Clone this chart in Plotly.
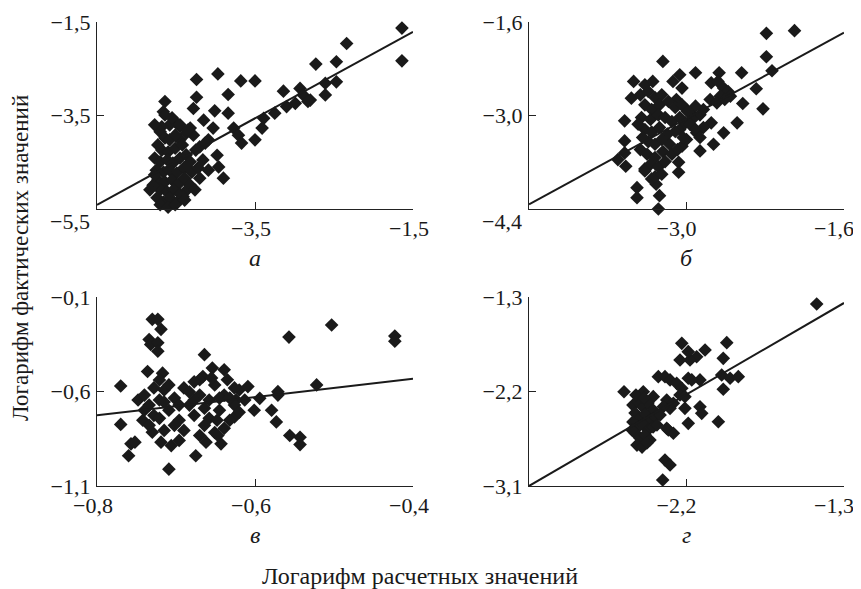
import plotly.graph_objects as go

# ---------------- data ----------------
# panel а
a_points = [(-1.64,-1.63),(-1.64,-2.33),(-2.34,-1.96),(-2.47,-2.35),(-2.73,-2.40),(-2.47,-2.78),(-2.61,-2.81),(-2.61,-3.06),
            (-2.93,-2.92),(-2.89,-3.06),(-2.80,-3.17),(-2.99,-3.24),(-3.10,-3.31),(-2.83,-3.20),(-3.14,-2.98),(-3.25,-3.45),
            (-3.39,-3.56),(-3.41,-3.77),(-3.50,-4.02),(-3.50,-2.76),(-3.68,-2.76),(-3.84,-3.05),(-3.84,-3.45),(-3.77,-3.77),
            (-3.71,-3.92),(-3.67,-4.09),(-3.97,-2.61),(-4.24,-2.73),(-4.24,-3.11),(-4.28,-3.35),(-4.01,-3.40),(-4.15,-3.60),
            (-4.03,-3.77),(-4.09,-4.02),(-3.98,-4.35),(-3.96,-4.60),(-3.90,-4.84),(-4.64,-3.20),(-4.66,-3.42),(-4.51,-3.63),
            (-4.58,-3.70),(-4.68,-3.74),(-4.45,-3.74),(-4.32,-3.77),(-4.28,-3.92),(-4.37,-3.88),(-4.45,-4.02),(-4.20,-4.17),
            (-4.13,-4.09),
            (-4.77,-3.70),(-4.70,-3.85),(-4.64,-3.98),(-4.73,-4.13),(-4.58,-4.02),(-4.51,-3.92),(-4.68,-4.24),(-4.60,-4.28),
            (-4.51,-4.20),(-4.42,-4.13),(-4.77,-4.41),(-4.70,-4.49),(-4.61,-4.45),(-4.54,-4.52),(-4.45,-4.41),(-4.37,-4.34),
            (-4.32,-4.49),(-4.75,-4.67),(-4.66,-4.71),(-4.58,-4.67),(-4.49,-4.73),(-4.40,-4.62),(-4.30,-4.71),(-4.22,-4.62),
            (-4.73,-4.88),(-4.64,-4.92),(-4.55,-4.88),(-4.47,-4.97),(-4.39,-4.84),(-4.32,-4.99),(-4.70,-5.09),(-4.61,-5.14),
            (-4.53,-5.09),(-4.45,-5.18),(-4.36,-5.09),(-4.74,-5.26),(-4.66,-5.35),(-4.58,-5.26),(-4.49,-5.37),(-4.41,-5.24),
            (-4.70,-5.41),(-4.60,-5.46),(-4.51,-5.41),(-4.20,-4.84),(-4.26,-5.09),(-4.79,-4.99),(-4.77,-4.77),(-4.39,-5.31),
            (-4.64,-3.49),(-4.55,-3.55),(-4.45,-3.70),(-4.35,-3.81),(-4.83,-5.09),(-4.25,-4.24),(-4.16,-4.45),(-4.09,-4.67)]
a_line_x = [-5.5, -1.5]
a_line_y = [-5.41, -1.71]

# panel б
b_points = [(-2.04,-1.73),(-2.29,-1.77),(-2.29,-2.12),(-2.24,-2.33),(-2.38,-2.60),(-2.32,-2.90),(-2.51,-2.36),(-2.50,-2.82),
            (-2.55,-3.11),(-2.71,-2.36),(-2.78,-2.51),(-2.72,-2.49),(-2.67,-2.59),(-2.63,-2.64),(-2.61,-2.71),(-2.70,-2.71),
            (-2.79,-2.76),(-2.73,-2.81),(-2.66,-2.76),(-2.67,-3.26),(-2.76,-3.43),(-2.78,-3.11),(-2.88,-3.53),(-2.85,-3.18),
            (-2.91,-3.26),(-2.94,-3.01),(-2.88,-2.99),(-2.85,-2.91),(-2.92,-2.86),(-3.00,-2.91),(-2.95,-3.06),(-2.92,-2.36),
            (-3.06,-2.39),(-3.04,-2.59),(-3.12,-2.49),(-3.09,-2.76),(-3.21,-2.19),(-3.04,-3.46),(-3.00,-3.36),(-3.06,-3.21),
            (-3.01,-3.11),(-3.07,-3.70),(-3.07,-3.85),(-3.47,-2.49),(-3.49,-2.74),(-3.55,-3.08),(-3.55,-3.38),(-3.55,-3.56),
            (-3.61,-3.66),(-3.54,-3.76),(-3.37,-2.54),(-3.30,-2.49),(-3.44,-4.08),(-3.44,-4.23),(-3.25,-4.40),(-3.24,-4.20),
            (-3.27,-4.03),(-3.31,-3.95),(-3.37,-3.80),
            (-3.41,-2.69),(-3.34,-2.64),(-3.28,-2.73),(-3.22,-2.69),(-3.37,-2.84),(-3.31,-2.91),(-3.24,-2.84),(-3.16,-2.79),
            (-3.10,-2.88),(-3.04,-2.84),(-2.99,-2.94),(-3.40,-3.03),(-3.32,-3.06),(-3.25,-2.99),(-3.19,-3.03),(-3.13,-3.09),
            (-3.06,-3.03),(-2.97,-3.13),(-3.37,-3.21),(-3.31,-3.25),(-3.24,-3.18),(-3.17,-3.28),(-3.10,-3.24),(-3.03,-3.33),
            (-3.34,-3.39),(-3.28,-3.43),(-3.22,-3.36),(-3.15,-3.43),(-3.41,-3.51),(-3.35,-3.58),(-3.28,-3.63),(-3.21,-3.54),
            (-3.32,-3.73),(-3.25,-3.77),(-3.19,-3.69),(-3.37,-3.83),(-3.28,-3.92),(-3.22,-3.88),(-3.39,-3.33),(-3.43,-3.13),
            (-2.92,-3.21),(-2.88,-3.33),(-3.13,-3.58),(-3.08,-3.51)]
b_line_x = [-4.4, -1.6]
b_line_y = [-4.33, -1.76]

# panel в
c_points = [(-0.423,-0.307),(-0.423,-0.334),(-0.503,-0.248),(-0.557,-0.312),(-0.522,-0.565),(-0.571,-0.601),(-0.571,-0.619),
            (-0.594,-0.636),(-0.609,-0.574),(-0.601,-0.699),(-0.579,-0.699),(-0.573,-0.761),(-0.556,-0.833),(-0.543,-0.842),
            (-0.543,-0.881),(-0.730,-0.218),(-0.723,-0.218),(-0.719,-0.271),(-0.734,-0.325),(-0.732,-0.351),(-0.723,-0.342),
            (-0.723,-0.387),(-0.664,-0.405),(-0.654,-0.476),(-0.639,-0.485),(-0.666,-0.521),(-0.736,-0.494),(-0.717,-0.503),
            (-0.721,-0.539),(-0.770,-0.571),(-0.748,-0.645),(-0.770,-0.774),(-0.757,-0.877),(-0.752,-0.868),(-0.760,-0.940),
            (-0.709,-1.011),(-0.675,-0.940),(-0.662,-0.868),(-0.643,-0.877),(-0.647,-0.833),(-0.706,-0.886),(-0.719,-0.868),
            (-0.742,-0.752),(-0.730,-0.815),(-0.626,-0.735),(-0.624,-0.645),
            (-0.740,-0.619),(-0.734,-0.672),(-0.728,-0.726),(-0.721,-0.645),(-0.715,-0.592),(-0.709,-0.699),(-0.702,-0.635),
            (-0.696,-0.752),(-0.690,-0.581),(-0.683,-0.672),(-0.677,-0.726),(-0.670,-0.619),(-0.664,-0.779),(-0.658,-0.645),
            (-0.651,-0.565),(-0.645,-0.699),(-0.639,-0.619),(-0.632,-0.752),(-0.626,-0.672),(-0.620,-0.592),(-0.734,-0.779),
            (-0.715,-0.806),(-0.696,-0.672),(-0.677,-0.645),(-0.658,-0.742),(-0.639,-0.795),(-0.709,-0.565),(-0.683,-0.603),
            (-0.664,-0.688),(-0.645,-0.635),(-0.626,-0.581),(-0.702,-0.779),(-0.670,-0.833),(-0.721,-0.742),(-0.690,-0.806),
            (-0.651,-0.817),(-0.632,-0.635),(-0.620,-0.710),(-0.728,-0.581),(-0.740,-0.699),(-0.670,-0.538),(-0.655,-0.528),
            (-0.635,-0.538),(-0.613,-0.645),(-0.696,-0.859),(-0.677,-0.549),(-0.715,-0.656),(-0.648,-0.752)]
c_line_x = [-0.8, -0.4]
c_line_y = [-0.726, -0.533]

# panel г
d_points = [(-1.456,-1.367),(-1.970,-1.735),(-1.990,-1.884),(-1.990,-2.179),(-2.018,-2.488),(-1.999,-2.043),(-1.951,-2.074),
            (-1.904,-2.059),(-2.094,-1.805),(-2.123,-2.090),(-2.123,-2.345),(-2.113,-2.408),(-2.142,-1.869),(-2.180,-1.900),
            (-2.190,-1.821),(-2.227,-1.741),(-2.237,-1.900),(-2.190,-2.074),(-2.170,-2.090),(-2.190,-2.503),(-2.209,-2.360),
            (-2.361,-2.059),(-2.323,-2.059),(-2.294,-2.090),(-2.256,-2.122),(-2.227,-2.170),(-2.237,-2.233),(-2.209,-2.249),
            (-2.313,-2.281),(-2.275,-2.312),(-2.294,-2.360),(-2.333,-2.345),(-2.304,-2.567),(-2.275,-2.598),(-2.313,-2.550),
            (-2.323,-2.852),(-2.294,-2.900),(-2.336,-3.043),(-2.557,-2.202),(-2.447,-2.202),(-2.390,-2.249),
            (-2.506,-2.329),(-2.477,-2.300),(-2.449,-2.348),(-2.420,-2.310),(-2.391,-2.376),(-2.494,-2.405),(-2.466,-2.452),
            (-2.437,-2.414),(-2.409,-2.471),(-2.380,-2.443),(-2.506,-2.490),(-2.477,-2.538),(-2.449,-2.510),(-2.420,-2.567),
            (-2.391,-2.538),(-2.494,-2.595),(-2.466,-2.643),(-2.437,-2.614),(-2.409,-2.662),(-2.483,-2.710),(-2.454,-2.729),
            (-2.426,-2.690),(-2.511,-2.567),(-2.369,-2.519),(-2.351,-2.424),(-2.489,-2.233),(-2.443,-2.262)]
d_line_x = [-3.1, -1.3]
d_line_y = [-3.1, -1.357]

# axis ranges and ticks
a_range_x, a_range_y = [-5.5, -1.5], [-5.5, -1.5]
a_ticks_x, a_ticks_y = [-3.5, -1.5], [-3.5, -1.5]
b_range_x, b_range_y = [-4.4, -1.6], [-4.4, -1.6]
b_ticks_x, b_ticks_y = [-3.0, -1.6], [-3.0, -1.6]
c_range_x, c_range_y = [-0.8, -0.4], [-1.1, -0.1]
c_ticks_x, c_ticks_y = [-0.8, -0.6, -0.4], [-1.1, -0.6, -0.1]
d_range_x, d_range_y = [-3.1, -1.3], [-3.1, -1.3]
d_ticks_x, d_ticks_y = [-2.2, -1.3], [-3.1, -2.2, -1.3]

panel_letters = ["а", "б", "в", "г"]
corner_labels = ["−5,5", "−4,4", None, None]
y_title = "Логарифм фактических значений"
x_title = "Логарифм расчетных значений"

# ---------------- figure ----------------
# the page body has an 8px margin: the figure starts at (8, 8) and runs to the window edge
OFF = 8
W, H = 861 - OFF, 589 - OFF
FONT = "Liberation Serif"
INK = "#1a1a1a"


def fx(px):
    return (px - OFF) / W


def fy(py):
    return 1 - (py - OFF) / H


def lab(v):
    return f"{v:.1f}".replace(".", ",").replace("-", "−")


panels = [
    (a_points, a_line_x, a_line_y, a_range_x, a_range_y, a_ticks_x, a_ticks_y),
    (b_points, b_line_x, b_line_y, b_range_x, b_range_y, b_ticks_x, b_ticks_y),
    (c_points, c_line_x, c_line_y, c_range_x, c_range_y, c_ticks_x, c_ticks_y),
    (d_points, d_line_x, d_line_y, d_range_x, d_range_y, d_ticks_x, d_ticks_y),
]

x_domains = [[fx(97), fx(413)], [fx(529), fx(844)]]
y_domains = [[fy(209), fy(22)], [fy(486), fy(297)]]
x_label_shift = [-4, -10]

fig = go.Figure()
annotations = []
for i, (pts, lx, ly, rx, ry, tx, ty) in enumerate(panels):
    n = i + 1
    xa = "x" if n == 1 else f"x{n}"
    ya = "y" if n == 1 else f"y{n}"
    xs = [p[0] for p in pts]
    ys = [p[1] for p in pts]
    fig.add_trace(go.Scatter(x=xs, y=ys, mode="markers", xaxis=xa, yaxis=ya,
                             marker=dict(symbol="diamond", size=10.5, color=INK, line=dict(width=0)),
                             cliponaxis=False, showlegend=False, hoverinfo="skip"))
    fig.add_trace(go.Scatter(x=lx, y=ly, mode="lines", xaxis=xa, yaxis=ya,
                             line=dict(color=INK, width=2), showlegend=False, hoverinfo="skip"))
    col, row = i % 2, i // 2
    axcommon = dict(showline=True, linecolor="#222", linewidth=1.3, ticks="inside", ticklen=7,
                    tickwidth=1.3, tickcolor="#222", showgrid=False, zeroline=False, automargin=False,
                    ticklabeloverflow="allow",
                    tickfont=dict(family=FONT, size=22, color=INK))
    fig.update_layout({
        ("xaxis" if n == 1 else f"xaxis{n}"): dict(domain=x_domains[col], anchor=ya, range=rx,
                                                   tickvals=tx, ticktext=[lab(v) for v in tx],
                                                   ticklabelstandoff=-1, ticklabelshift=x_label_shift[col],
                                                   **axcommon),
        ("yaxis" if n == 1 else f"yaxis{n}"): dict(domain=y_domains[row], anchor=xa, range=ry,
                                                   tickvals=ty, ticktext=[lab(v) for v in ty],
                                                   ticklabelstandoff=1, **axcommon),
    })
    annotations.append(dict(text=f"<i>{panel_letters[i]}</i>", xref="paper", yref="paper",
                            x=(x_domains[col][0] + x_domains[col][1]) / 2,
                            y=y_domains[row][0], yshift=-49, xanchor="center", yanchor="middle",
                            showarrow=False, font=dict(family=FONT, size=24, color=INK)))
    if corner_labels[i]:
        annotations.append(dict(text=corner_labels[i], xref=f"{xa} domain", yref=f"{ya} domain",
                                x=0, y=0, xanchor="right", yanchor="middle", xshift=-5, yshift=-13,
                                showarrow=False, font=dict(family=FONT, size=22, color=INK)))

annotations.append(dict(text=x_title, xref="paper", yref="paper", x=fx(420), y=fy(576),
                        xanchor="center", yanchor="middle", showarrow=False,
                        font=dict(family=FONT, size=24, color=INK)))
annotations.append(dict(text=y_title, xref="paper", yref="paper", x=fx(20), y=fy(258),
                        xanchor="center", yanchor="middle", textangle=-90, showarrow=False,
                        font=dict(family=FONT, size=23, color=INK)))

fig.update_layout(template="none", width=W, height=H, margin=dict(l=0, r=0, t=0, b=0),
                  paper_bgcolor="white", plot_bgcolor="white", annotations=annotations)

fig.write_html("out.html")
